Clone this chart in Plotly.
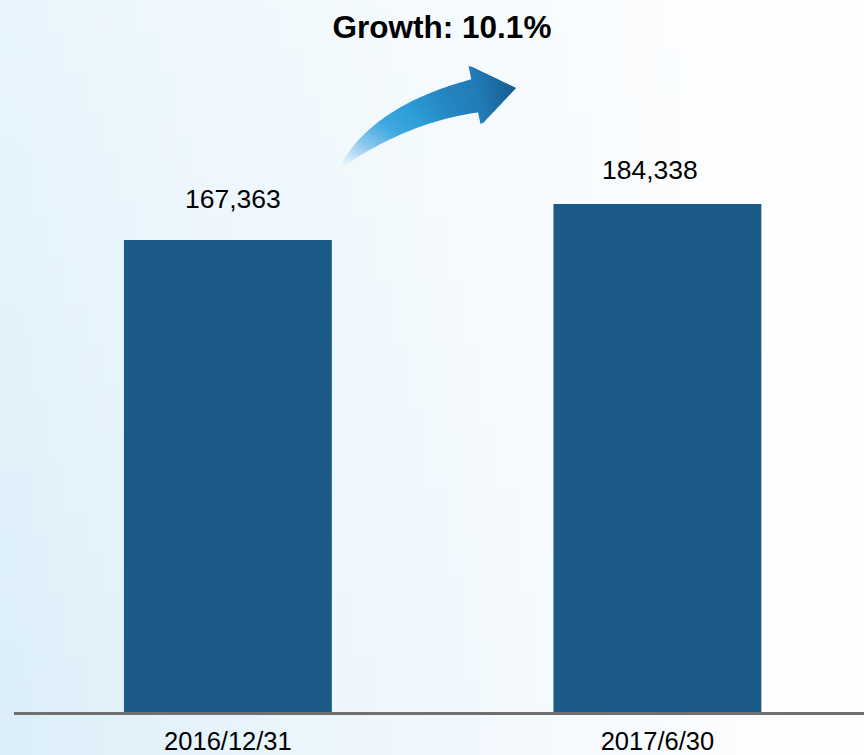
import base64
import struct
import zlib

import plotly.graph_objects as go

# ---------------- data ----------------
categories = ["2016/12/31", "2017/6/30"]
values = [167363, 184338]
value_labels = ["167,363", "184,338"]
title_text = "Growth: 10.1%"

# ---------------- style / layout constants ----------------
W, H = 864, 755
Y_FLOOR = -55200
Y_TOP = 280530
X_RANGE = [-0.498, 1.481]
BAR_COLOR = "#1b5a87"
FONT = "Liberation Sans, Arial, sans-serif"
label_xshift = [5, -7]
label_yshift = [41, 34]


def px(x):
    return x / W


def py(y):
    return 1 - y / H


# ---------- background gradient as a small PNG ----------
def make_png(w, h, fn):
    raw = b""
    for j in range(h):
        row = b"\x00"
        for i in range(w):
            r, g, b = fn(i / (w - 1), j / (h - 1))
            row += bytes((r, g, b))
        raw += row

    def chunk(tag, data):
        c = struct.pack(">I", len(data)) + tag + data
        return c + struct.pack(">I", zlib.crc32(tag + data) & 0xFFFFFFFF)

    png = b"\x89PNG\r\n\x1a\n"
    png += chunk(b"IHDR", struct.pack(">IIBBBBB", w, h, 8, 2, 0, 0, 0))
    png += chunk(b"IDAT", zlib.compress(raw, 9))
    png += chunk(b"IEND", b"")
    return "data:image/png;base64," + base64.b64encode(png).decode()


def bg_color(u, v):
    tl = (232, 245, 252)
    bl = (219, 238, 249)
    right = (254, 254, 255)
    left = tuple(tl[k] + (bl[k] - tl[k]) * v for k in range(3))
    s = min(1.0, u ** 0.8 * 1.05)
    return tuple(int(round(left[k] + (right[k] - left[k]) * s)) for k in range(3))


bg_uri = make_png(48, 36, bg_color)

# ---------------- figure ----------------
fig = go.Figure()
fig.add_trace(
    go.Bar(
        x=categories,
        y=[v - Y_FLOOR for v in values],
        base=Y_FLOOR,
        width=0.484,
        marker=dict(color=BAR_COLOR, line=dict(width=0)),
        customdata=values,
        hovertemplate="%{x}: %{customdata:,}<extra></extra>",
    )
)

annotations = []
for i, (c, v, t) in enumerate(zip(categories, values, value_labels)):
    annotations.append(
        dict(
            x=c, y=v, xref="x", yref="y", text=t, showarrow=False,
            xanchor="center", yanchor="middle",
            xshift=label_xshift[i], yshift=label_yshift[i],
            font=dict(family=FONT, size=26.5, color="#000000"),
        )
    )


# ---------- curved gradient arrow (decoration) ----------
def bez(p0, c, p2, t):
    return (
        (1 - t) ** 2 * p0[0] + 2 * t * (1 - t) * c[0] + t ** 2 * p2[0],
        (1 - t) ** 2 * p0[1] + 2 * t * (1 - t) * c[1] + t ** 2 * p2[1],
    )


TAIL = (338, 170)
UP_C, UP_END = (370, 106), (473, 79)
LO_C, LO_END = (406, 122), (480, 112)
HEAD_A, HEAD_B, HEAD_TIP = (470, 66), (482, 124), (516, 88)

stops = [
    (0.0, (240, 248, 253, 0.0)),
    (0.08, (222, 239, 250, 0.9)),
    (0.25, (140, 200, 236, 1.0)),
    (0.45, (62, 168, 224, 1.0)),
    (0.62, (45, 158, 216, 1.0)),
    (0.82, (38, 136, 194, 1.0)),
    (1.0, (34, 124, 184, 1.0)),
]


def grad(t):
    for k in range(len(stops) - 1):
        t0, c0 = stops[k]
        t1, c1 = stops[k + 1]
        if t <= t1:
            f = (t - t0) / (t1 - t0)
            return tuple(c0[m] + (c1[m] - c0[m]) * f for m in range(4))
    return stops[-1][1]


def rgba(c):
    return "rgba(%d,%d,%d,%.3f)" % (c[0], c[1], c[2], c[3])


shapes = []
N = 70
for k in range(N):
    t0 = k / N
    t1 = min(1.03, (k + 1.6) / N)
    pts = [bez(TAIL, UP_C, UP_END, t0), bez(TAIL, UP_C, UP_END, t1),
           bez(TAIL, LO_C, LO_END, t1), bez(TAIL, LO_C, LO_END, t0)]
    path = "M " + " L ".join("%.5f,%.5f" % (px(x), py(y)) for x, y in pts) + " Z"
    col = grad(min(1.0, (t0 + t1) / 2))
    shapes.append(dict(type="path", xref="paper", yref="paper", path=path,
                       fillcolor=rgba(col), line=dict(width=0), layer="above"))

M = 30
hc0 = (35, 126, 187)
hc1 = (23, 94, 143)
for k in range(M):
    s0 = max(0.0, (k - 0.3) / M)
    s1 = min(1.0, (k + 1.5) / M)
    a0 = (HEAD_A[0] + s0 * (HEAD_TIP[0] - HEAD_A[0]), HEAD_A[1] + s0 * (HEAD_TIP[1] - HEAD_A[1]))
    a1 = (HEAD_A[0] + s1 * (HEAD_TIP[0] - HEAD_A[0]), HEAD_A[1] + s1 * (HEAD_TIP[1] - HEAD_A[1]))
    b0 = (HEAD_B[0] + s0 * (HEAD_TIP[0] - HEAD_B[0]), HEAD_B[1] + s0 * (HEAD_TIP[1] - HEAD_B[1]))
    b1 = (HEAD_B[0] + s1 * (HEAD_TIP[0] - HEAD_B[0]), HEAD_B[1] + s1 * (HEAD_TIP[1] - HEAD_B[1]))
    if k == 0:
        a0 = (a0[0] - 1.5, a0[1])
        b0 = (b0[0] - 1.5, b0[1])
    pts = [a0, a1, b1, b0]
    path = "M " + " L ".join("%.5f,%.5f" % (px(x), py(y)) for x, y in pts) + " Z"
    f = (s0 + s1) / 2
    col = tuple(hc0[m] + (hc1[m] - hc0[m]) * f for m in range(3)) + (1.0,)
    shapes.append(dict(type="path", xref="paper", yref="paper", path=path,
                       fillcolor=rgba(col), line=dict(width=0), layer="above"))

fig.update_layout(
    width=W,
    height=H,
    autosize=False,
    margin=dict(l=0, r=0, t=0, b=0, pad=0, autoexpand=False),
    paper_bgcolor="rgba(0,0,0,0)",
    plot_bgcolor="rgba(0,0,0,0)",
    showlegend=False,
    title=dict(
        text="<b>%s</b>" % title_text,
        x=442 / W, y=1 - 27 / H, xref="paper", yref="paper",
        xanchor="center", yanchor="middle",
        font=dict(family=FONT, size=31.5, color="#000000"),
        automargin=False,
    ),
    xaxis=dict(
        domain=[14 / W, 1],
        range=X_RANGE,
        type="category",
        automargin=False,
        showgrid=False,
        zeroline=False,
        showline=True,
        linecolor="#707070",
        linewidth=2.5,
        ticks="",
        ticklabelstandoff=5,
        tickfont=dict(family=FONT, size=25.5, color="#000000"),
        fixedrange=True,
    ),
    yaxis=dict(
        domain=[43 / H, 1],
        range=[Y_FLOOR, Y_TOP],
        visible=False,
        automargin=False,
        showgrid=False,
        zeroline=False,
        fixedrange=True,
    ),
    images=[dict(source=bg_uri, xref="paper", yref="paper", x=0, y=1,
                 sizex=1, sizey=1, sizing="stretch", layer="below",
                 xanchor="left", yanchor="top")],
    annotations=annotations,
    shapes=shapes,
)

fig.write_html(
    "out.html",
    config={"displayModeBar": False},
    post_script="document.body.style.margin='0';document.body.style.overflow='hidden';",
)
